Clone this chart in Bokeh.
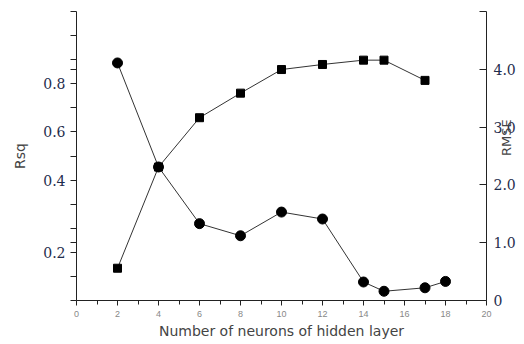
import math
from bokeh.plotting import figure
from bokeh.models import Range1d, LinearAxis, FixedTicker
from bokeh.embed import file_html
from bokeh.resources import INLINE

# Data
neurons_rsq = [2, 4, 6, 8, 10, 12, 14, 15, 17]
rsq = [0.134, 0.554, 0.759, 0.861, 0.959, 0.980, 0.998, 0.998, 0.914]
neurons_rmse = [2, 4, 6, 8, 10, 12, 14, 15, 17, 18]
rmse = [4.11, 2.31, 1.33, 1.12, 1.53, 1.41, 0.32, 0.16, 0.22, 0.33]

x_major = [0, 2, 4, 6, 8, 10, 12, 14, 16, 18, 20]
x_minor = [1, 3, 5, 7, 9, 11, 13, 15, 17, 19]
left_labeled = [0.2, 0.5, 0.7, 0.9]
left_label_text = ["0.2", "0.4", "0.6", "0.8"]
left_minor = [0.0, 0.1, 0.24, 0.3, 0.4, 0.6, 0.8, 0.96, 1.0, 1.1, 1.2]
rmse_major = [0, 1, 2, 3, 4]
rmse_label_text = ["0", "1.0", "2.0", "3.0", "4.0"]
rmse_minor = [5]

AX = "#222222"
SERIF_COL = "#1f2d4d"

p = figure(width=524, height=344, output_backend="svg", toolbar_location=None,
           x_range=Range1d(0, 20), y_range=Range1d(0, 1.2),
           min_border_left=76, min_border_right=33, min_border_top=11, min_border_bottom=44)
p.outline_line_color = None
p.grid.visible = False
p.background_fill_color = "white"
p.border_fill_color = "white"
p.extra_y_ranges = {"rmse": Range1d(0, 5)}

# x axis
xa = p.xaxis[0]
xa.ticker = FixedTicker(ticks=x_major, minor_ticks=x_minor)
xa.axis_line_color = AX
xa.major_tick_line_color = AX
xa.minor_tick_line_color = AX
xa.major_tick_in = 0
xa.major_tick_out = 5
xa.minor_tick_in = 0
xa.minor_tick_out = 4
xa.major_label_standoff = 5
xa.major_label_text_font = "Liberation Sans"
xa.major_label_text_font_size = "9px"
xa.major_label_text_color = "#888888"
xa.axis_label = "Number of neurons of hidden layer"
xa.axis_label_text_font = "DejaVu Sans"
xa.axis_label_text_font_size = "14px"
xa.axis_label_text_font_style = "normal"
xa.axis_label_text_color = "#444444"
xa.axis_label_standoff = 3

# left axis (Rsq)
ya = p.yaxis[0]
ya.ticker = FixedTicker(ticks=left_labeled, minor_ticks=left_minor)
ya.major_label_overrides = {v: t for v, t in zip(left_labeled, left_label_text)}
ya.axis_line_color = AX
ya.major_tick_line_color = AX
ya.minor_tick_line_color = AX
ya.major_tick_in = 0
ya.major_tick_out = 6
ya.minor_tick_in = 0
ya.minor_tick_out = 6
ya.major_label_standoff = 5
ya.major_label_text_font = "DejaVu Serif"
ya.major_label_text_font_size = "14px"
ya.major_label_text_color = SERIF_COL
ya.axis_label = "Rsq"
ya.axis_label_text_font = "DejaVu Sans"
ya.axis_label_text_font_size = "14px"
ya.axis_label_text_font_style = "normal"
ya.axis_label_text_color = "#444444"
ya.axis_label_standoff = 12

# right axis (RMSE)
ra = LinearAxis(y_range_name="rmse")
ra.ticker = FixedTicker(ticks=rmse_major, minor_ticks=rmse_minor)
ra.major_label_overrides = {v: t for v, t in zip(rmse_major, rmse_label_text)}
ra.axis_line_color = AX
ra.major_tick_line_color = AX
ra.minor_tick_line_color = AX
ra.major_tick_in = 7
ra.major_tick_out = 0
ra.minor_tick_in = 7
ra.minor_tick_out = 0
ra.major_label_standoff = 7
ra.major_label_text_font = "DejaVu Serif"
ra.major_label_text_font_size = "14px"
ra.major_label_text_color = SERIF_COL
ra.axis_label = "RMSE"
ra.axis_label_orientation = math.pi / 2
ra.axis_label_text_align = "center"
ra.axis_label_text_font = "DejaVu Sans"
ra.axis_label_text_font_size = "13px"
ra.axis_label_text_font_style = "normal"
ra.axis_label_text_color = "#444444"
ra.axis_label_standoff = -12
p.add_layout(ra, "right")

# series
p.line(neurons_rsq, rsq, line_color="#333333", line_width=1)
p.scatter(neurons_rsq, rsq, marker="square", size=8, fill_color="black", line_color="black")
p.line(neurons_rmse, rmse, line_color="#333333", line_width=1, y_range_name="rmse")
p.scatter(neurons_rmse, rmse, marker="circle", size=10, fill_color="black", line_color="black",
          y_range_name="rmse")

open("out.html", "w").write(file_html(p, INLINE))
